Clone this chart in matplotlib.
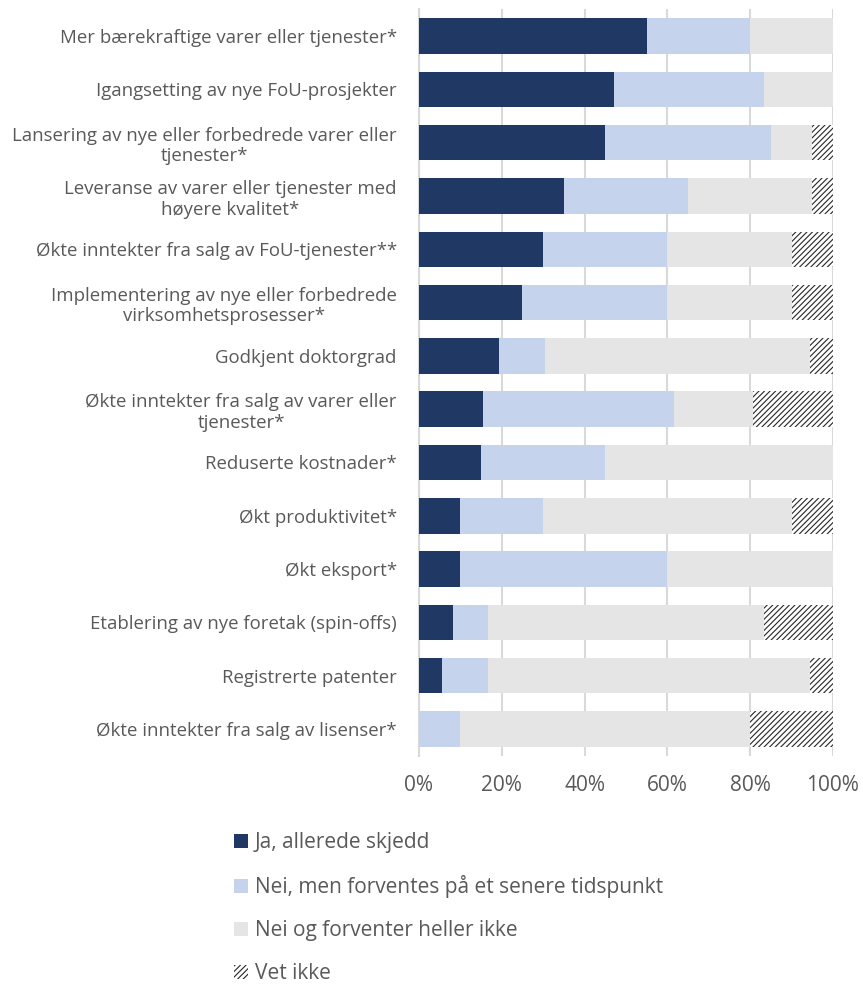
import matplotlib
matplotlib.use("Agg")
import matplotlib.pyplot as plt
import numpy as np
from matplotlib.ticker import FuncFormatter

categories = [
    "Mer bærekraftige varer eller tjenester*",
    "Igangsetting av nye FoU-prosjekter",
    "Lansering av nye eller forbedrede varer eller\ntjenester*",
    "Leveranse av varer eller tjenester med\nhøyere kvalitet*",
    "Økte inntekter fra salg av FoU-tjenester**",
    "Implementering av nye eller forbedrede\nvirksomhetsprosesser*",
    "Godkjent doktorgrad",
    "Økte inntekter fra salg av varer eller\ntjenester*",
    "Reduserte kostnader*",
    "Økt produktivitet*",
    "Økt eksport*",
    "Etablering av nye foretak (spin-offs)",
    "Registrerte patenter",
    "Økte inntekter fra salg av lisenser*",
]
ja = [55.0, 47.1, 45.0, 35.0, 30.0, 25.0, 19.4, 15.4, 15.0, 10.0, 10.0, 8.3, 5.6, 0.0]
nei_senere = [25.0, 36.3, 40.0, 30.0, 30.0, 35.0, 11.1, 46.2, 30.0, 20.0, 50.0, 8.3, 11.1, 10.0]
nei_ikke = [20.0, 16.6, 10.0, 30.0, 30.0, 30.0, 63.9, 19.2, 55.0, 60.0, 40.0, 66.7, 77.8, 70.0]
vet_ikke = [0.0, 0.0, 5.0, 5.0, 10.0, 10.0, 5.6, 19.2, 0.0, 10.0, 0.0, 16.7, 5.5, 20.0]
series_names = ["Ja, allerede skjedd", "Nei, men forventes på et senere tidspunkt",
                "Nei og forventer heller ikke", "Vet ikke"]
xticks = [0, 20, 40, 60, 80, 100]

plt.rcParams['font.family'] = ['Open Sans', 'DejaVu Sans']
plt.rcParams['hatch.linewidth'] = 0.8
txt = '#595959'

fig = plt.figure(figsize=(8.63, 9.84), dpi=100)
ax = fig.add_axes([0.4855, 0.2321, 0.4797, 0.7583])

y = np.arange(len(categories))
h = 0.666
left = np.zeros(len(categories))
colors = ['#203864', '#C5D3EC', '#E5E5E5', 'white']
handles = []
for vals, col, name in zip([ja, nei_senere, nei_ikke, vet_ikke], colors, series_names):
    vals = np.array(vals)
    if name == "Vet ikke":
        b = ax.barh(y, vals, left=left, height=h, color='white', edgecolor='#262626',
                    hatch='//////', linewidth=0, label=name, zorder=3)
    else:
        b = ax.barh(y, vals, left=left, height=h, color=col, linewidth=0, label=name, zorder=3)
    handles.append(b)
    left = left + vals

ax.set_xlim(0, 100)
ax.set_ylim(len(categories) - 0.5, -0.5)
ax.set_xticks(xticks)
ax.xaxis.set_major_formatter(FuncFormatter(lambda v, p: f"{v:.0f}%"))
ax.set_yticks(y)
ax.set_yticklabels(categories, ha='right', linespacing=1.2)
ax.tick_params(axis='y', length=0, colors=txt, labelsize=13.4, pad=16)
ax.tick_params(axis='x', length=0, colors=txt, labelsize=15, pad=14)
for lbl in ax.get_yticklabels():
    lbl.set_multialignment('center')
ax.grid(axis='x', color='#D9D9D9', linewidth=1.5, zorder=0)
for s in ['top', 'right', 'bottom']:
    ax.spines[s].set_visible(False)
ax.spines['left'].set_color('#D9D9D9')
ax.spines['left'].set_linewidth(1.5)

leg = fig.legend(handles=handles, labels=series_names, loc='upper left',
                 bbox_to_anchor=(0.262, 0.1628), frameon=False, fontsize=15,
                 handlelength=0.67, handleheight=0.67, handletextpad=0.3,
                 labelspacing=1.06, borderaxespad=0)
for t in leg.get_texts():
    t.set_color(txt)

fig.savefig('out.png', dpi=100)
